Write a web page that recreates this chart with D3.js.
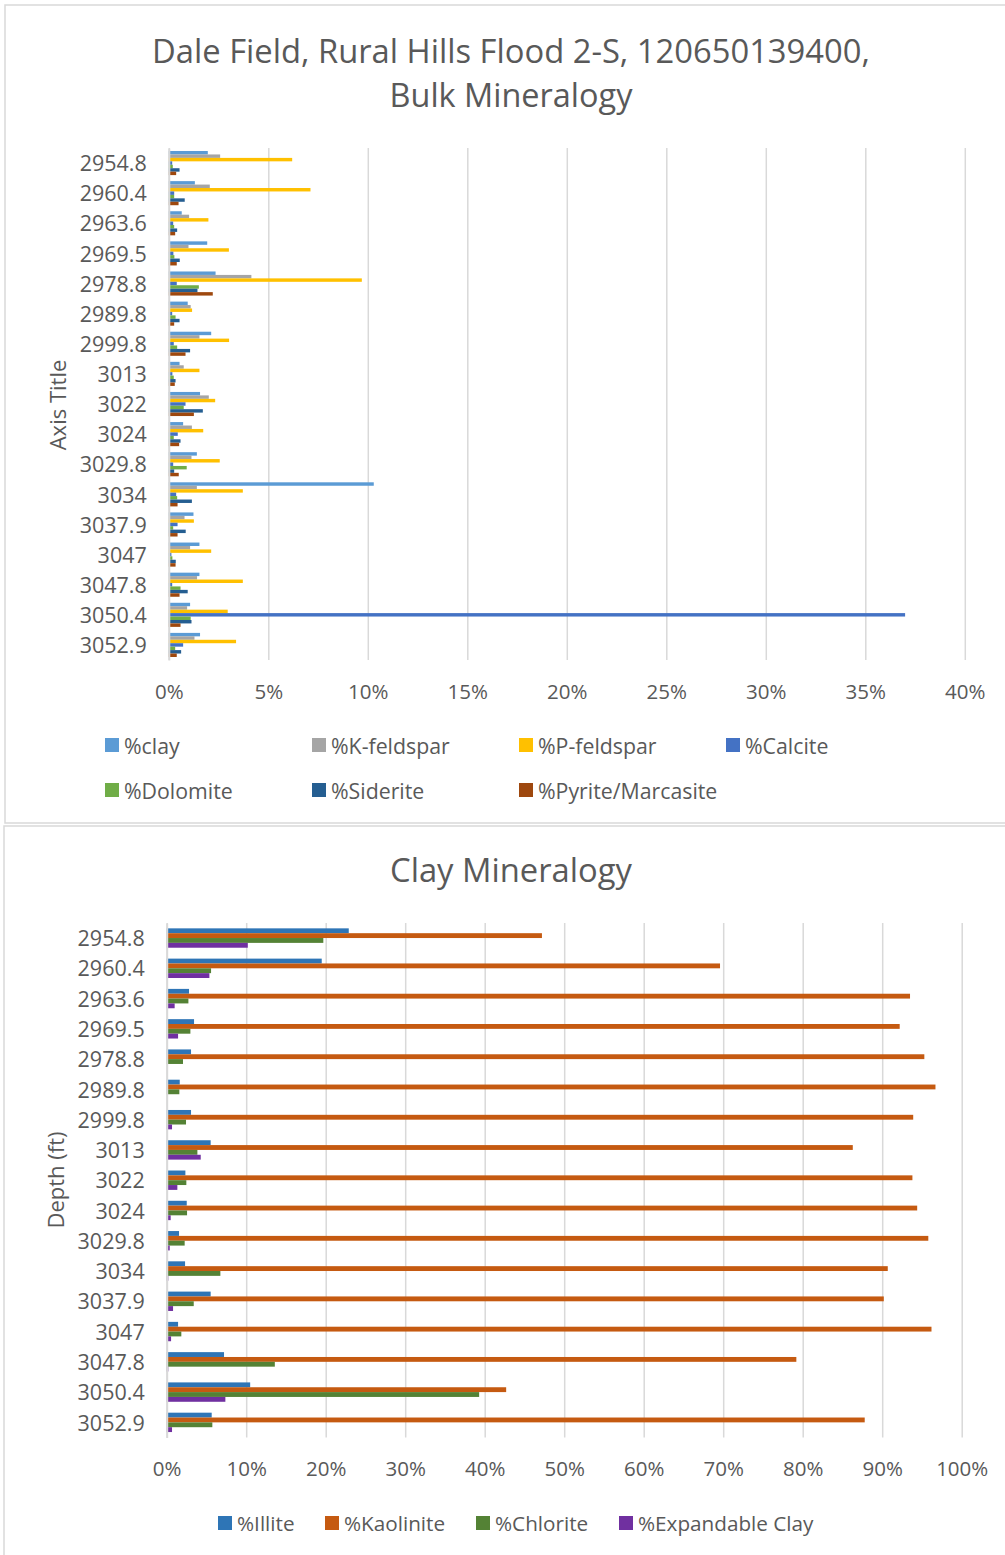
<!DOCTYPE html>
<html><head><meta charset="utf-8">
<script src="https://cdn.jsdelivr.net/npm/d3@7"></script>
<style>body{margin:0;background:#fff}svg{display:block}text{font-family:"Open Sans",sans-serif;fill:#595959}</style>
</head><body>
<script>
const depths = ["2954.8","2960.4","2963.6","2969.5","2978.8","2989.8","2999.8","3013","3022","3024","3029.8","3034","3037.9","3047","3047.8","3050.4","3052.9"];

// Bulk mineralogy (%)
const clay      = [1.96,1.31,0.65,1.93,2.35,0.95,2.13,0.54,1.57,0.72,1.41,10.3,1.24,1.54,1.54,1.07,1.57];
const kFeldspar = [2.58,2.06,1.02,0.99,4.15,1.10,1.54,0.75,2.01,1.16,1.14,1.41,0.79,1.07,1.42,0.92,1.29];
const pFeldspar = [6.20,7.12,1.99,3.02,9.70,1.17,3.03,1.54,2.33,1.73,2.56,3.72,1.26,2.13,3.72,2.96,3.38];
const calcite   = [0.17,0.27,0.22,0.23,0.40,0.17,0.25,0.18,0.84,0.45,0.22,0.37,0.44,0.13,0.17,37.0,0.72];
const dolomite  = [0.20,0.27,0.27,0.28,1.51,0.34,0.42,0.25,0.75,0.25,0.90,0.42,0.22,0.18,0.59,1.10,0.32];
const siderite  = [0.54,0.80,0.42,0.55,1.44,0.54,1.07,0.34,1.71,0.59,0.27,1.16,0.85,0.35,0.95,1.14,0.62];
const pyrite    = [0.37,0.49,0.32,0.40,2.21,0.27,0.84,0.30,1.26,0.52,0.50,0.44,0.44,0.34,0.54,0.59,0.40];
const bulkNames = ["%clay","%K-feldspar","%P-feldspar","%Calcite","%Dolomite","%Siderite","%Pyrite/Marcasite"];
const bulkTicks = [0,5,10,15,20,25,30,35,40];

// Clay mineralogy (%)
const illite     = [22.9,19.5,2.81,3.44,3.06,1.64,3.06,5.53,2.35,2.52,1.55,2.31,5.53,1.43,7.21,10.5,5.66];
const kaolinite  = [47.2,69.6,93.5,92.2,95.3,96.7,93.9,86.3,93.8,94.4,95.8,90.7,90.2,96.2,79.2,42.7,87.8];
const chlorite   = [19.7,5.58,2.73,2.98,2.05,1.59,2.43,3.86,2.47,2.56,2.26,6.75,3.40,1.84,13.6,39.3,5.74];
const expandable = [10.2,5.37,1.00,1.43,0,0,0.67,4.28,1.34,0.50,0.38,0.20,0.80,0.55,0.20,7.38,0.67];
const clayNames = ["%Illite","%Kaolinite","%Chlorite","%Expandable Clay"];
const clayTicks = [0,10,20,30,40,50,60,70,80,90,100];

const svg = d3.select("body").append("svg").attr("width",1005).attr("height",1555);

function fitText(t, target){
  const fs = parseFloat(t.attr("font-size"));
  const w = t.node().getComputedTextLength();
  t.attr("font-size", fs*target/w);
}

function drawChart(o){
  const g = svg.append("g");
  g.append("rect").attr("x",o.box[0]).attr("y",o.box[1]).attr("width",o.box[2]).attr("height",o.box[3])
    .attr("fill","#fff").attr("stroke","#d9d9d9").attr("stroke-width",1.5);
  o.titles.forEach(tt=>{
    const t = g.append("text").attr("x",tt.x).attr("y",tt.y).attr("text-anchor","middle")
      .attr("dominant-baseline","central").attr("font-size",30).text(tt.text);
    fitText(t, tt.w);
  });
  const x = d3.scaleLinear().domain(o.xDomain).range([o.x0,o.x1]);
  const y = d3.scaleBand().domain(depths).range([o.y0,o.y1]).paddingInner(o.pi).paddingOuter(o.po);
  const ys = d3.scaleBand().domain(d3.range(o.series.length)).range([0,y.bandwidth()]);
  // gridlines
  const grid = d3.axisBottom(x).tickValues(o.ticks).tickSize(-(o.y1-o.y0)).tickFormat("");
  g.append("g").attr("transform",`translate(0,${o.y1})`).call(grid)
    .call(s=>{s.select(".domain").remove();s.selectAll("line").attr("stroke","#d9d9d9").attr("stroke-width",1.5);});
  // bars
  o.series.forEach((vals,si)=>{
    g.append("g").selectAll("rect").data(vals).join("rect")
      .attr("x",x(0)).attr("y",(d,i)=>y(depths[i])+ys(si))
      .attr("width",d=>Math.max(0,x(d)-x(0))).attr("height",ys.bandwidth())
      .attr("fill",o.colors[si]);
  });
  // y axis
  const ya = d3.axisLeft(y).tickSize(0).tickPadding(22);
  g.append("g").attr("transform",`translate(${o.x0},0)`).call(ya)
    .call(s=>{s.select(".domain").attr("stroke","#d9d9d9").attr("stroke-width",2);
      s.selectAll("text").attr("font-size",21.5).attr("fill","#595959").attr("font-family","Open Sans")
        .attr("dx",o.ydx||0).attr("dy","0.38em");});
  // x axis labels
  const xa = d3.axisBottom(x).tickValues(o.ticks).tickSize(0).tickPadding(0).tickFormat(d=>d+"%");
  g.append("g").attr("transform",`translate(0,${o.xLabY})`).call(xa)
    .call(s=>{s.select(".domain").remove();
      s.selectAll("text").attr("font-size",20.5).attr("fill","#595959").attr("font-family","Open Sans").attr("dy","0.35em");});
  // axis title
  g.append("text").attr("transform",`translate(${o.axT[0]},${o.axT[1]}) rotate(-90)`)
    .attr("text-anchor","middle").attr("dominant-baseline","central").attr("font-size",22).text(o.axisTitle);
  // legend
  o.legend.forEach((p,i)=>{
    g.append("rect").attr("x",p[0]).attr("y",p[1]-7).attr("width",14).attr("height",14).attr("fill",o.colors[i]);
    g.append("text").attr("x",p[0]+19).attr("y",p[1]).attr("dominant-baseline","central")
      .attr("font-size",o.legFs).text(o.names[i]);
  });
}

drawChart({
  box:[5,5,1010,818],
  titles:[{text:"Dale Field, Rural Hills Flood 2-S, 120650139400,",x:511,y:50,w:718},{text:"Bulk Mineralogy",x:511,y:94,w:243}],
  xDomain:[0,40], x0:168.8, x1:964.8, y0:148, y1:660, pi:0.2, po:0.1,
  ticks:bulkTicks, xLabY:692,
  series:[clay,kFeldspar,pFeldspar,calcite,dolomite,siderite,pyrite],
  colors:["#5B9BD5","#A5A5A5","#FFC000","#4472C4","#70AD47","#255E91","#9E480E"],
  names:bulkNames, axisTitle:"Axis Title", axT:[57,405], legFs:21.3,
  legend:[[105,745],[312,745],[519,745],[726,745],[105,790],[312,790],[519,790]]
});

drawChart({
  box:[4,826,1010,740],
  titles:[{text:"Clay Mineralogy",x:511,y:869,w:242}],
  xDomain:[0,100], x0:166.7, x1:961.7, y0:922.9, y1:1437.5, pi:0.36, po:0.18,
  ticks:clayTicks, xLabY:1469,
  series:[illite,kaolinite,chlorite,expandable],
  colors:["#2E75B6","#C55A11","#548235","#7030A0"],
  names:clayNames, axisTitle:"Depth (ft)", axT:[55,1180], legFs:20.7,
  legend:[[218,1523],[325,1523],[476,1523],[619,1523]]
});
</script>
</body></html>
